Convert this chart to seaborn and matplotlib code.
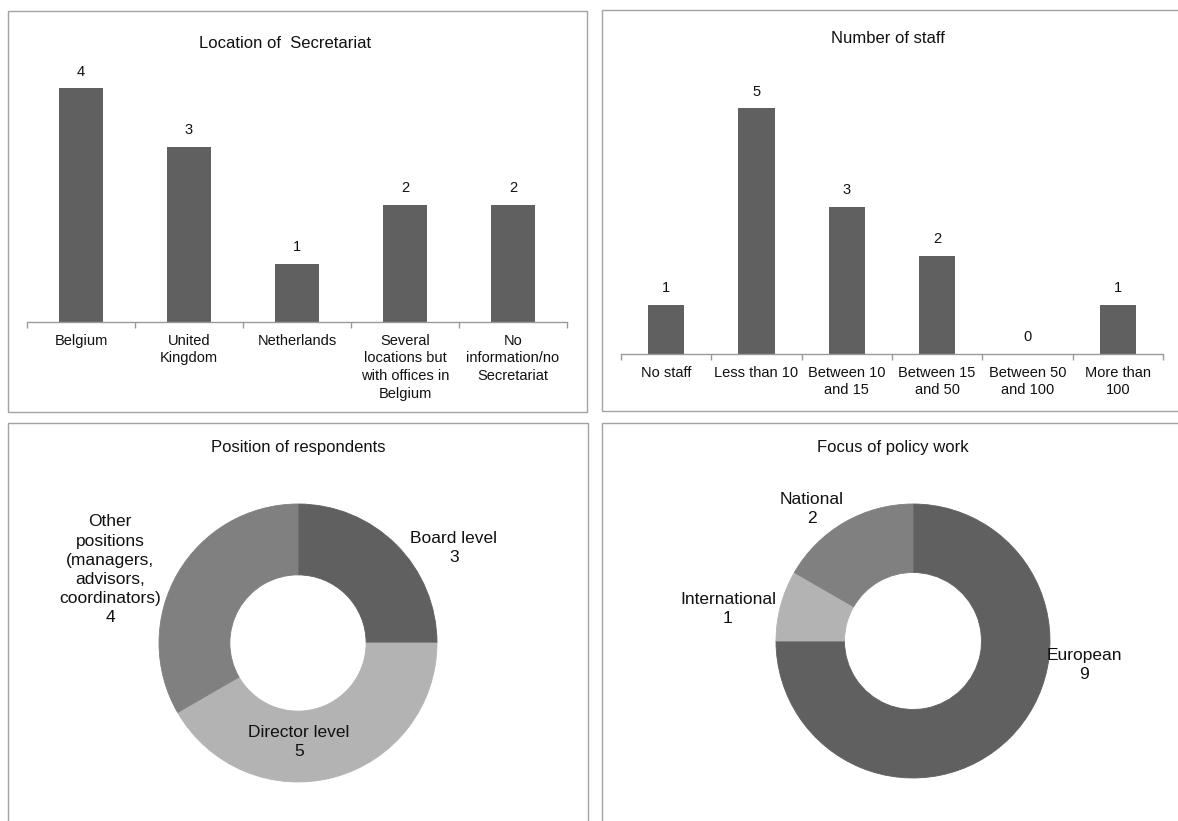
import matplotlib
matplotlib.use("Agg")
import numpy as np
import pandas as pd
import matplotlib.pyplot as plt
import seaborn as sns
from matplotlib.patches import Rectangle

# ---- data -------------------------------------------------------------
location_labels = ["Belgium", "United\nKingdom", "Netherlands",
                   "Several\nlocations but\nwith offices in\nBelgium",
                   "No\ninformation/no\nSecretariat"]
location_counts = [4, 3, 1, 2, 2]

staff_labels = ["No staff", "Less than 10", "Between 10\nand 15",
                "Between 15\nand 50", "Between 50\nand 100", "More than\n100"]
staff_counts = [1, 5, 3, 2, 0, 1]

position_labels = ["Board level", "Director level",
                   "Other\npositions\n(managers,\nadvisors,\ncoordinators)"]
position_counts = [3, 5, 4]

focus_labels = ["European", "International", "National"]
focus_counts = [9, 1, 2]

# ---- style ------------------------------------------------------------
W, H = 1178, 821
DARK, MID, LIGHT = "#606060", "#808080", "#b3b3b3"
FRAME = "#a3a3a3"
AXIS = "#9a9a9a"
TEXT = "#111111"

sns.set_theme(style="white")
plt.rcParams["font.family"] = ["Liberation Sans", "DejaVu Sans"]
plt.rcParams["text.color"] = TEXT

fig = plt.figure(figsize=(W / 100, H / 100), dpi=100)
fig.patch.set_facecolor("white")


def rect(x0, y0, x1, y1):
    """Pixel box (top-left origin) -> figure-fraction rectangle."""
    return [x0 / W, 1 - y1 / H, (x1 - x0) / W, (y1 - y0) / H]


def ftext(x, y, s, **kw):
    fig.text(x / W, 1 - y / H, s, **kw)


# panel frames
for x0, y0, x1, y1 in [(7.5, 11.5, 587, 412.5), (601.5, 10.5, 1195, 411.5),
                       (7.5, 423.5, 587.5, 840), (601.5, 423.5, 1195, 840)]:
    fig.patches.append(Rectangle((x0 / W, 1 - y1 / H), (x1 - x0) / W, (y1 - y0) / H,
                                 transform=fig.transFigure, fill=False,
                                 edgecolor=FRAME, lw=1.0))


def bar_panel(box, labels, counts, ymax):
    ax = fig.add_axes(rect(*box))
    df = pd.DataFrame({"category": labels, "count": counts})
    sns.barplot(data=df, x="category", y="count", color=DARK, saturation=1,
                width=0.4, linewidth=0, ax=ax)
    n = len(labels)
    ax.set_xlim(-0.5, n - 0.5)
    ax.set_ylim(0, ymax)
    ax.set_xlabel("")
    ax.set_ylabel("")
    ax.set_yticks([])
    for side in ("top", "left", "right"):
        ax.spines[side].set_visible(False)
    ax.spines["bottom"].set_color(AXIS)
    ax.spines["bottom"].set_linewidth(1.0)
    ax.set_xticks(np.arange(n + 1) - 0.5, minor=True)
    ax.tick_params(axis="x", which="minor", bottom=True, length=4, width=1.0,
                   color=AXIS, direction="out")
    ax.tick_params(axis="x", which="major", bottom=False, length=0, pad=8.5,
                   labelsize=10.5, labelcolor=TEXT)
    for lbl in ax.get_xticklabels():
        lbl.set_linespacing(1.33)
    ax.set_facecolor("none")
    for c in ax.containers:
        ax.bar_label(c, labels=[str(v) for v in counts], padding=7,
                     fontsize=10.5, color=TEXT)
    return ax


bar_panel((27, 59, 567, 322), location_labels, location_counts, 4.5)
bar_panel((621, 79, 1163, 354), staff_labels, staff_counts, 5.6)

ftext(285, 48, "Location of  Secretariat", ha="center", va="baseline", fontsize=12)
ftext(888, 43, "Number of staff", ha="center", va="baseline", fontsize=12)
ftext(298, 452, "Position of respondents", ha="center", va="baseline", fontsize=12)
ftext(893, 452, "Focus of policy work", ha="center", va="baseline", fontsize=12)


def donut(center, radius, counts, colors, labels, label_xy, hole_width):
    cx, cy = center
    ax = fig.add_axes(rect(cx - radius, cy - radius, cx + radius, cy + radius))
    wedges, _ = ax.pie(counts, colors=colors, startangle=90, counterclock=False,
                       radius=1, wedgeprops=dict(width=hole_width, linewidth=0.6))
    for w in wedges:
        w.set_edgecolor(w.get_facecolor())
    ax.set_xlim(-1, 1)
    ax.set_ylim(-1, 1)
    ax.set_aspect("equal")
    ax.axis("off")
    for lab, val, (x, y) in zip(labels, counts, label_xy):
        ftext(x, y, f"{lab}\n{val}", ha="center", va="center",
              fontsize=12.5, color=TEXT, linespacing=1.35)


donut((298, 643), 139, position_counts, [DARK, LIGHT, MID], position_labels,
      [(454, 548), (299, 742), (110, 570)], 0.51)
donut((913, 641), 137, focus_counts, [DARK, LIGHT, MID], focus_labels,
      [(1084, 665), (728, 609), (812, 509)], 0.50)

fig.savefig("out.png", dpi=100, facecolor="white")
